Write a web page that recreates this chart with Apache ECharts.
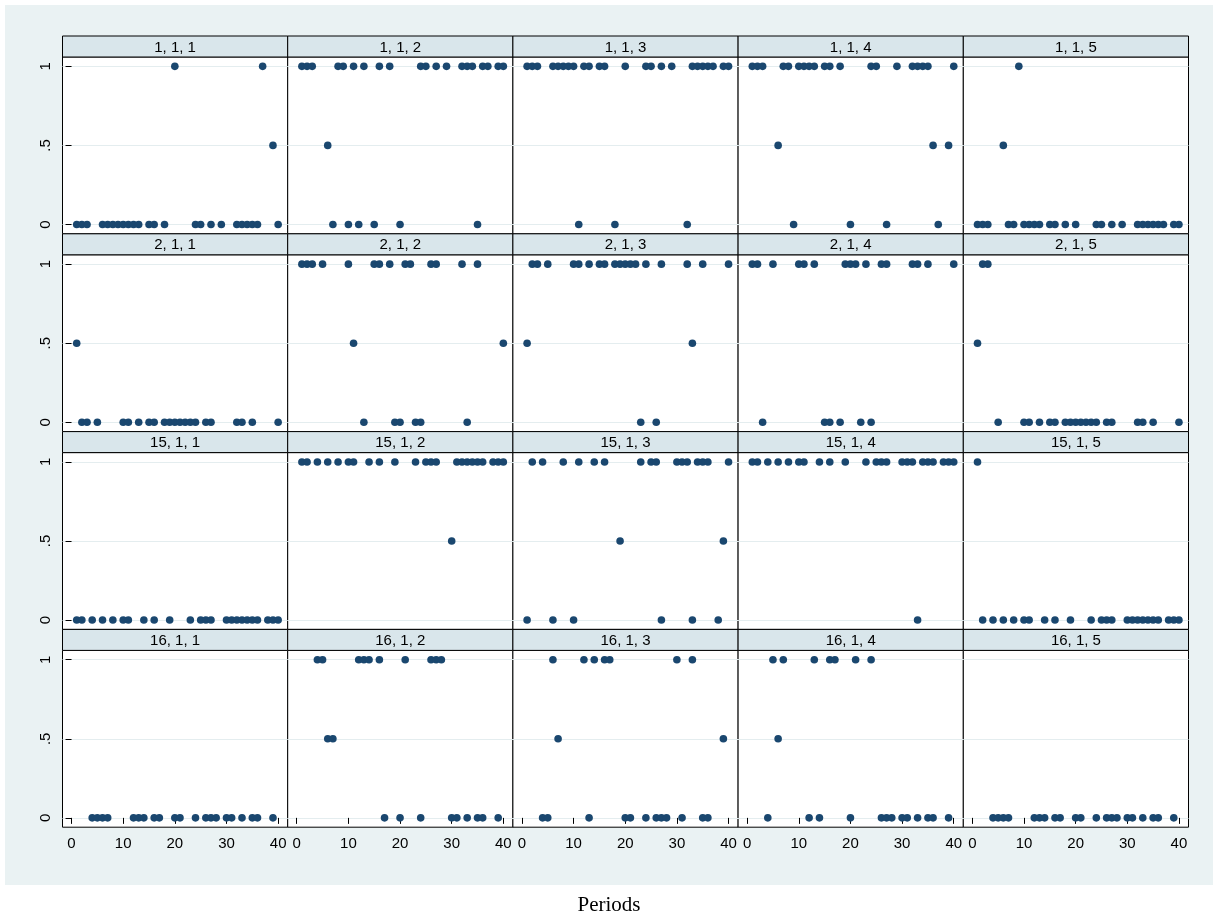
<!DOCTYPE html>
<html><head><meta charset="utf-8">
<script src="https://cdn.jsdelivr.net/npm/echarts@6/dist/echarts.min.js"></script>
<style>html,body{margin:0;padding:0;background:#fff}#c{width:1218px;height:919px}</style>
</head><body><div id="c"></div>
<script>
// ---- data ----
const periodsRow1 = [1,2,3,6,7,8,9,10,11,12,13,15,16,18,20,24,25,27,29,32,33,34,35,36,37,39,40];
const periodsRow2 = [1,2,3,5,10,11,13,15,16,18,19,20,21,22,23,24,26,27,32,33,35,40];
const periodsRow3 = [1,2,4,6,8,10,11,14,16,19,23,25,26,27,30,31,32,33,34,35,36,38,39,40];
const periodsRow4 = [4,5,6,7,12,13,14,16,17,20,21,24,26,27,28,30,31,33,35,36,39];

const groupLabels = ['1', '2', '15', '16'];
const subLabels = ['1, 1', '1, 2', '1, 3', '1, 4', '1, 5'];

const v_1_1_1 = [0,0,0,0,0,0,0,0,0,0,0,0,0,0,1,0,0,0,0,0,0,0,0,0,1,0.5,0];
const v_1_1_2 = [1,1,1,0.5,0,1,1,0,1,0,1,0,1,1,0,1,1,1,1,1,1,1,0,1,1,1,1];
const v_1_1_3 = [1,1,1,1,1,1,1,1,0,1,1,1,1,0,1,1,1,1,1,0,1,1,1,1,1,1,1];
const v_1_1_4 = [1,1,1,0.5,1,1,0,1,1,1,1,1,1,1,0,1,1,0,1,1,1,1,1,0.5,0,0.5,1];
const v_1_1_5 = [0,0,0,0.5,0,0,1,0,0,0,0,0,0,0,0,0,0,0,0,0,0,0,0,0,0,0,0];

const v_2_1_1 = [0.5,0,0,0,0,0,0,0,0,0,0,0,0,0,0,0,0,0,0,0,0,0];
const v_2_1_2 = [1,1,1,1,1,0.5,0,1,1,1,0,0,1,1,0,0,1,1,1,0,1,0.5];
const v_2_1_3 = [0.5,1,1,1,1,1,1,1,1,1,1,1,1,1,0,1,0,1,1,0.5,1,1];
const v_2_1_4 = [1,1,0,1,1,1,1,0,0,0,1,1,1,0,1,0,1,1,1,1,1,1];
const v_2_1_5 = [0.5,1,1,0,0,0,0,0,0,0,0,0,0,0,0,0,0,0,0,0,0,0];

const v_15_1_1 = [0,0,0,0,0,0,0,0,0,0,0,0,0,0,0,0,0,0,0,0,0,0,0,0];
const v_15_1_2 = [1,1,1,1,1,1,1,1,1,1,1,1,1,1,0.5,1,1,1,1,1,1,1,1,1];
const v_15_1_3 = [0,1,1,0,1,0,1,1,1,0.5,1,1,1,0,1,1,1,0,1,1,1,0,0.5,1];
const v_15_1_4 = [1,1,1,1,1,1,1,1,1,1,1,1,1,1,1,1,1,0,1,1,1,1,1,1];
const v_15_1_5 = [1,0,0,0,0,0,0,0,0,0,0,0,0,0,0,0,0,0,0,0,0,0,0,0];

const v_16_1_1 = [0,0,0,0,0,0,0,0,0,0,0,0,0,0,0,0,0,0,0,0,0];
const v_16_1_2 = [1,1,0.5,0.5,1,1,1,1,0,0,1,0,1,1,1,0,0,0,0,0,0];
const v_16_1_3 = [0,0,1,0.5,1,0,1,1,1,0,0,0,0,0,0,1,0,1,0,0,0.5];
const v_16_1_4 = [0,1,0.5,1,0,1,0,1,1,0,1,1,0,0,0,0,0,0,0,0,0];
const v_16_1_5 = [0,0,0,0,0,0,0,0,0,0,0,0,0,0,0,0,0,0,0,0,0];

const xTicks = [0, 10, 20, 30, 40];
const yTicks = [0, 0.5, 1];
const yTickLabels = ['0', '.5', '1'];
const xTitle = 'Periods';

const rowPeriods = [periodsRow1, periodsRow2, periodsRow3, periodsRow4];
const rowValues = [
  [v_1_1_1, v_1_1_2, v_1_1_3, v_1_1_4, v_1_1_5],
  [v_2_1_1, v_2_1_2, v_2_1_3, v_2_1_4, v_2_1_5],
  [v_15_1_1, v_15_1_2, v_15_1_3, v_15_1_4, v_15_1_5],
  [v_16_1_1, v_16_1_2, v_16_1_3, v_16_1_4, v_16_1_5]
];

// ---- layout ----
const L0 = 62.5, CW = 225.2, T0 = 36, RH = 197.8, HH = 21, PH = RH - HH;
const FONT = '"Liberation Sans", Arial, sans-serif';
const NAVY = '#1a476f';

const grids = [], xAxes = [], yAxes = [], series = [], graphics = [];
graphics.push({type:'rect', z:-100, silent:true, shape:{x:5, y:5, width:1208, height:880}, style:{fill:'#eaf2f3'}});

for (let r = 0; r < 4; r++) {
  for (let c = 0; c < 5; c++) {
    const k = r * 5 + c;
    const left = L0 + c * CW, top = T0 + r * RH;
    grids.push({left: left, top: top + HH, width: CW, height: PH, show: true,
      backgroundColor: '#fff', borderColor: '#000', borderWidth: 1,
      containLabel: false, outerBoundsMode: 'none'});
    xAxes.push({gridIndex: k, type: 'value', min: -1.75, max: 41.85,
      axisLine: {show: false}, splitLine: {show: false},
      axisTick: {show: r === 3, length: 6, customValues: xTicks, lineStyle: {color: '#000', width: 1}},
      axisLabel: {show: r === 3, customValues: xTicks, fontSize: 15, color: '#000', fontFamily: FONT, margin: 9}});
    yAxes.push({gridIndex: k, type: 'value', min: -0.059, max: 1.059,
      axisLine: {show: false},
      splitLine: {show: true, lineStyle: {color: '#e4edef', width: 1}},
      axisTick: {show: c === 0, length: 6, customValues: yTicks, lineStyle: {color: '#000', width: 1}},
      axisLabel: {show: c === 0, customValues: yTicks, rotate: 90, fontSize: 15, color: '#000', fontFamily: FONT, margin: 9,
        formatter: function (v) { const i = yTicks.indexOf(v); return i >= 0 ? yTickLabels[i] : ''; }}});
    const per = rowPeriods[r], vals = rowValues[r][c];
    series.push({type: 'scatter', xAxisIndex: k, yAxisIndex: k, silent: true, clip: false,
      symbol: 'circle', symbolSize: 7.6, itemStyle: {color: NAVY, opacity: 1},
      data: per.map(function (p, i) { return [p, vals[i]]; })});
    graphics.push({type: 'rect', z: 50, silent: true, shape: {x: left, y: top, width: CW, height: HH},
      style: {fill: '#d9e6eb', stroke: '#000', lineWidth: 1}});
    graphics.push({type: 'text', z: 51, silent: true, x: left + CW / 2, y: top + HH / 2 + 1,
      style: {text: groupLabels[r] + ', ' + subLabels[c], fill: '#000', font: '15px ' + FONT,
        align: 'center', verticalAlign: 'middle', textAlign: 'center', textVerticalAlign: 'middle'}});
  }
}

const chart = echarts.init(document.getElementById('c'), null, {renderer: 'canvas'});
chart.setOption({
  animation: false,
  backgroundColor: '#fff',
  title: {text: xTitle, left: 'center', top: 890,
    textStyle: {fontFamily: '"Liberation Serif", "Times New Roman", serif', fontSize: 21, fontWeight: 'normal', color: '#000'}},
  grid: grids, xAxis: xAxes, yAxis: yAxes, series: series, graphic: graphics
});
</script></body></html>
